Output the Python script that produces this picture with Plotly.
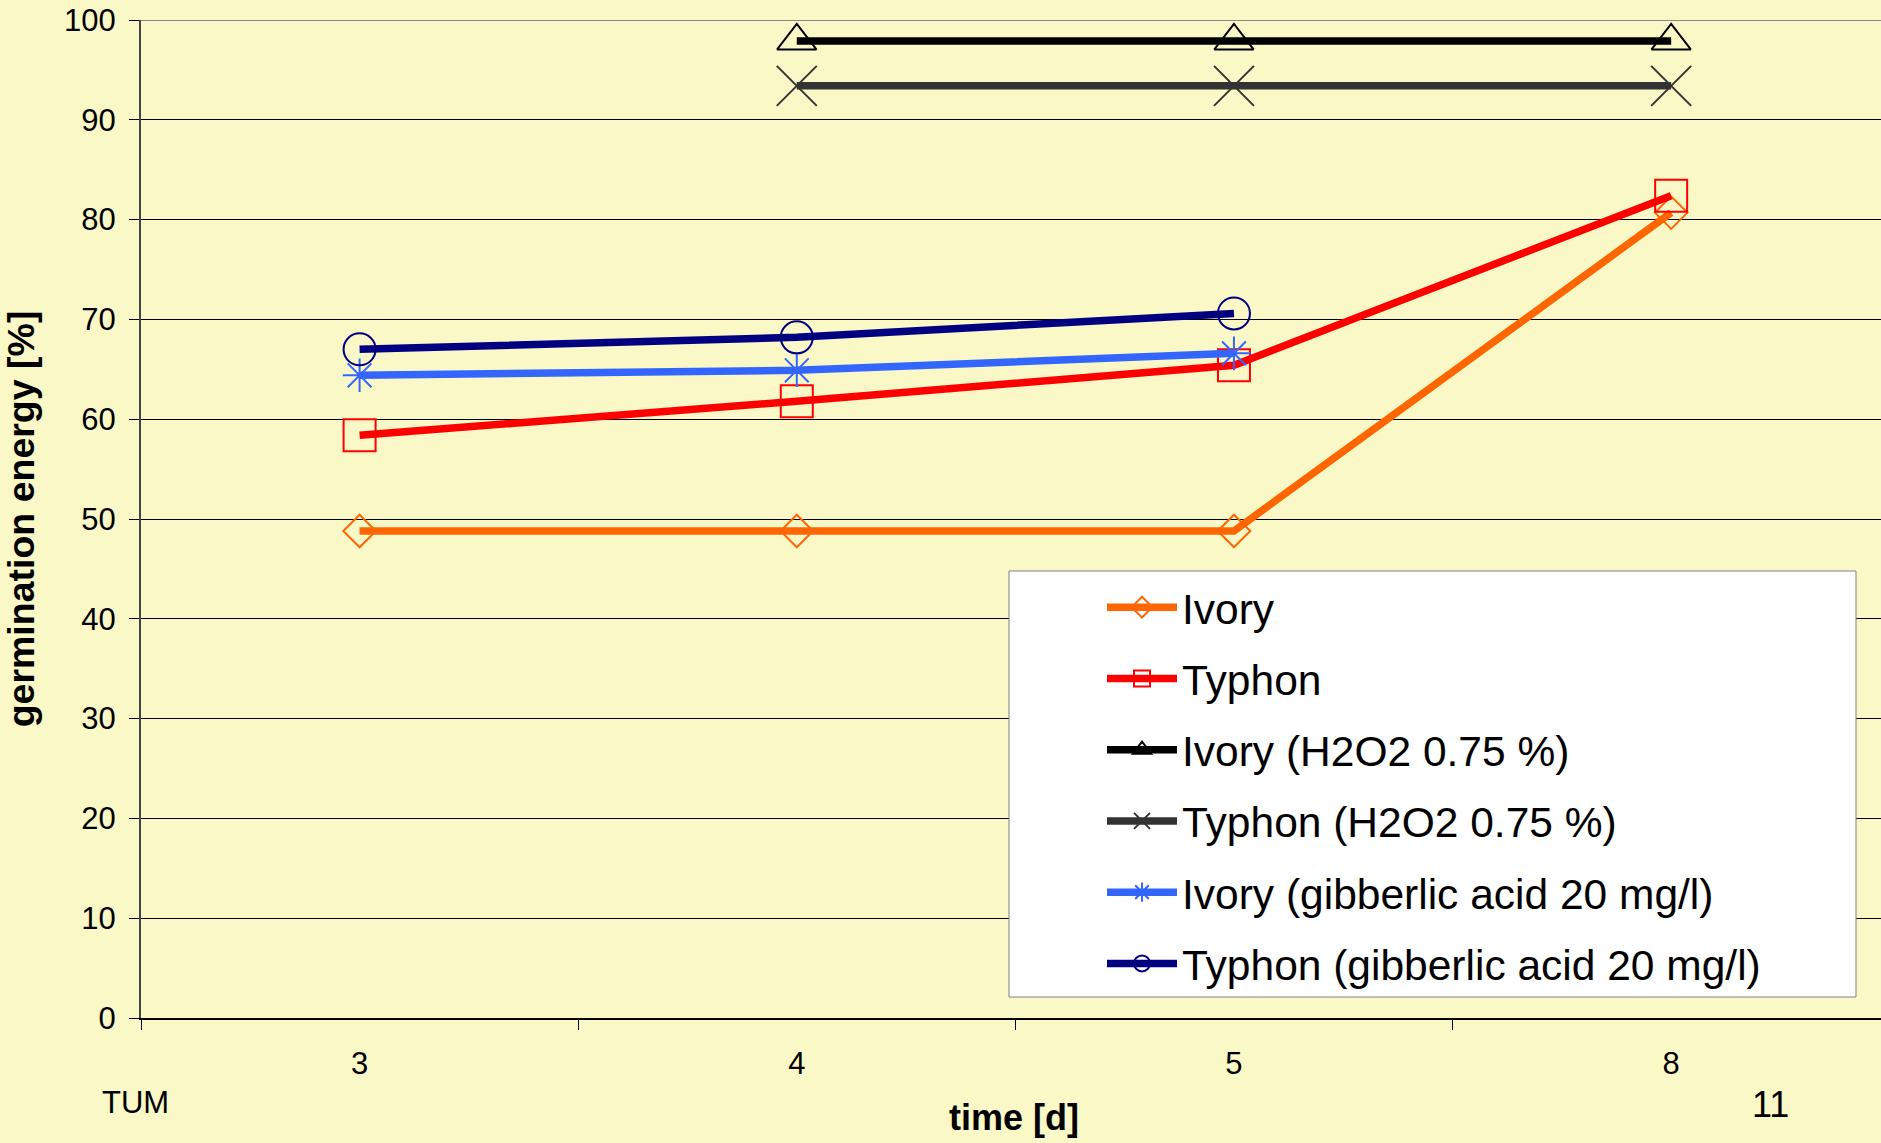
import plotly.graph_objects as go

# ---- data ----
days = ["3", "4", "5", "8"]
ivory = [48.8, 48.8, 48.8, 80.7]
typhon = [58.4, 61.8, 65.4, 82.4]
ivory_h2o2 = [None, 97.9, 97.9, 97.9]
typhon_h2o2 = [None, 93.4, 93.4, 93.4]
ivory_gib = [64.4, 64.9, 66.6, None]
typhon_gib = [67.0, 68.2, 70.6, None]

series_names = ["Ivory", "Typhon", "Ivory (H2O2 0.75 %)", "Typhon (H2O2 0.75 %)",
                "Ivory (gibberlic acid 20 mg/l)", "Typhon (gibberlic acid 20 mg/l)"]
series_values = [ivory, typhon, ivory_h2o2, typhon_h2o2, ivory_gib, typhon_gib]
colors = ["#FF6600", "#FF0000", "#000000", "#333333", "#3366FF", "#000080"]
symbols = ["diamond-open", "square-open", "triangle-up-open", "x-thin-open",
           "asterisk-open", "circle-open"]
msizes = [25, 32, 34, 40, 28, 32]

BG = "#FBF8C8"
FONT = "Arial, Liberation Sans, sans-serif"

fig = go.Figure()
for name, vals, c, s, ms in zip(series_names, series_values, colors, symbols, msizes):
    fig.add_trace(go.Scatter(
        x=days, y=vals, name=name, mode="lines+markers", legendgroup=name,
        line=dict(color=c, width=7.5),
        marker=dict(symbol=s, size=ms, color=c, line=dict(color=c, width=2)),
        connectgaps=False,
    ))

W, H = 1881, 1143
ml, mr, mt, mb = 141, 0, 20, 125
pw, ph = W - ml - mr, H - mt - mb

def px(x):
    return (x - ml) / pw

def py(y):
    return (H - mb - y) / ph

fig.update_layout(
    width=W, height=H,
    margin=dict(l=ml, r=mr, t=mt, b=mb, pad=0),
    paper_bgcolor=BG, plot_bgcolor=BG,
    font=dict(family=FONT, color="#000000", size=31),
    showlegend=True,
    legend=dict(
        x=px(1102), y=py(573), xanchor="left", yanchor="top",
        bgcolor="rgba(0,0,0,0)", borderwidth=0,
        font=dict(family=FONT, size=42.5, color="#000000"),
        itemwidth=70, tracegroupgap=13,
    ),
    xaxis=dict(
        type="category", range=[-0.5, 3.48],
        tickson="boundaries", ticks="outside", ticklen=10, tickwidth=1, tickcolor="#000000",
        showline=True, linecolor="#000000", linewidth=2,
        showgrid=False, zeroline=False,
        tickfont=dict(family=FONT, size=31),
        ticklabelstandoff=17,
    ),
    yaxis=dict(
        range=[0, 100], dtick=10, tick0=0,
        ticks="outside", ticklen=10, tickwidth=1, tickcolor="#000000",
        showline=True, linecolor="#444444", linewidth=2,
        showgrid=True, gridcolor="#000000", gridwidth=1,
        zeroline=False,
        tickfont=dict(family=FONT, size=31),
        ticklabelstandoff=7,
        title=dict(text="<b>germination energy [%]</b>", font=dict(family=FONT, size=37.5), standoff=27),
    ),
    shapes=[
        dict(type="line", xref="paper", yref="y", x0=0, x1=1, y0=100, y1=100,
             line=dict(color="#888888", width=2), layer="above"),
        dict(type="rect", xref="paper", yref="paper",
             x0=px(1009), x1=px(1856), y0=py(997), y1=py(571),
             fillcolor="#FFFFFF", line=dict(color="#808080", width=1), layer="above"),
    ],
    annotations=[
        dict(text="TUM", xref="paper", yref="paper", x=px(135), y=py(1102),
             showarrow=False, font=dict(family=FONT, size=31), xanchor="center", yanchor="middle"),
        dict(text="11", xref="paper", yref="paper", x=px(1770), y=py(1104),
             showarrow=False, font=dict(family=FONT, size=36), xanchor="center", yanchor="middle"),
        dict(text="<b>time [d]</b>", xref="paper", yref="paper", x=px(1014), y=py(1140),
             showarrow=False, font=dict(family=FONT, size=36), xanchor="center", yanchor="bottom"),
    ],
)

fig.write_html("out.html")
